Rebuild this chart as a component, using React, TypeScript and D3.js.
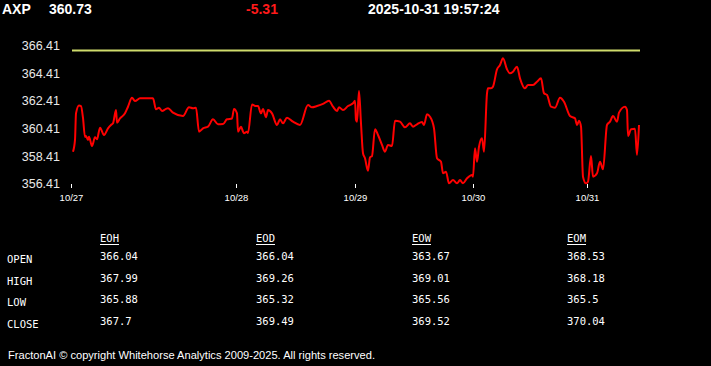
import React from "react";
import * as d3 from "d3";

const symbol = "AXP";
const lastPrice = "360.73";
const change = "-5.31";
const timestamp = "2025-10-31 19:57:24";
const prevClose = 366.04;

const yTicks = [356.41, 358.41, 360.41, 362.41, 364.41, 366.41];
const dayLabels = ["10/27", "10/28", "10/29", "10/30", "10/31"];
const dayTickBars = [0, 165, 284, 402, 516];
const totalBars = 568;

const bars = [
  1, 3, 4, 7, 9, 11, 13, 14, 16, 17, 20, 23, 25, 28, 32, 36, 39, 41, 44, 45, 48, 53, 56, 60, 63, 68,
  81, 84, 87, 90, 94, 96, 101, 111, 117, 121, 124, 127, 131, 136, 141, 146, 151, 155, 160, 162, 165,
  166, 169, 171, 172, 175, 176, 180, 184, 186, 189, 191, 194, 196, 200, 205, 208, 211, 215, 221, 228,
  236, 240, 245, 251, 257, 261, 265, 267, 271, 276, 281, 283, 284, 285, 287, 289, 291, 293, 296, 298,
  300, 303, 306, 310, 313, 316, 320, 323, 328, 333, 338, 341, 345, 350, 352, 355, 358, 362, 365, 369,
  371, 374, 377, 381, 385, 388, 391, 395, 400, 401, 403, 405, 407, 410, 412, 415, 416, 419, 421, 425,
  428, 431, 435, 438, 441, 445, 448, 453, 456, 461, 465, 469, 472, 475, 479, 483, 488, 492, 498, 503,
  505, 507, 509, 511, 514, 516, 519, 521, 525, 528, 531, 535, 538, 541, 545, 547, 553, 555, 556, 559,
  563, 565, 567,
];
const prices = [
  358.74, 359.59, 361.51, 362.08, 362.04, 361.18, 359.8, 359.88, 359.59, 359.83, 359.15, 359.78, 359.64,
  360.47, 359.95, 360.43, 360.67, 360.79, 361.75, 360.84, 361.15, 361.51, 361.99, 362.64, 362.4, 362.6,
  362.6, 361.8, 361.92, 361.68, 361.83, 361.88, 361.56, 361.32, 361.95, 361.88, 361.92, 360.19, 360.43,
  360.55, 361.08, 360.72, 360.74, 361.08, 361.14, 361.83, 361.51,
  360.19, 360.55, 360.19, 360.07, 360.19, 360.09, 362.15, 362.04, 362.04, 361.51, 361.83, 361.23, 361.75,
  361.51, 360.67, 361.08, 360.79, 361.2, 360.91, 360.67,
  362.11, 361.95, 362.04, 362.19, 362.42, 361.99, 361.68, 361.95, 361.75, 362.04, 362.24, 362.42, 361.03,
  360.91, 363.12, 360.79, 358.63, 358.27, 357.37, 358.34,
  358.43, 360.36, 359.95, 359.23, 358.74, 359.23, 359.15, 360.98, 360.91, 360.5, 360.79, 360.55, 360.72,
  360.89, 360.67, 361.44, 361.27, 360.43, 358.27, 358.02,
  357.18, 357.3, 356.46, 356.7, 356.46, 356.7, 356.46, 356.82, 357.06, 356.94, 358.99, 358.02, 359.1,
  359.71, 358.74, 362.96, 363.32, 363.32, 363.44, 364.69,
  365.0, 365.49, 364.69, 364.4, 364.52, 364.88, 364.04, 363.32, 363.56, 363.56, 363.8, 364.04, 362.96,
  362.84, 361.99, 361.92, 362.64, 362.35, 361.32, 361.15,
  360.67, 360.98, 360.55, 356.94, 356.46, 356.58, 358.43, 356.94, 357.18, 358.02, 357.47, 360.67, 360.91,
  361.32, 360.91, 361.56, 361.99, 361.75, 359.88, 360.36,
  360.4, 358.51, 360.67,
];

const tableColumns = ["EOH", "EOD", "EOW", "EOM"];
const tableRows = ["OPEN", "HIGH", "LOW", "CLOSE"];
const eohValues = ["366.04", "367.99", "365.88", "367.7"];
const eodValues = ["366.04", "369.26", "365.32", "369.49"];
const eowValues = ["363.67", "369.01", "365.56", "369.52"];
const eomValues = ["368.53", "368.18", "365.5", "370.04"];
const tableValues = [eohValues, eodValues, eowValues, eomValues];

const footer = "FractonAI \u00A9 copyright Whitehorse Analytics 2009-2025. All rights reserved.";

const W = 711;
const H = 366;

export default function App() {
  const x = d3.scaleLinear().domain([0, totalBars]).range([72, 640]);
  const y = d3.scaleLinear().domain([356.41, 366.41]).range([184, 45.5]);
  const line = d3
    .line<number>()
    .x((_, i) => x(bars[i]))
    .y((d) => y(d))
    .curve(d3.curveMonotoneX);
  const path = line(prices) || "";

  const colX = [100, 256, 412, 567];
  const rowY = [263, 285, 306, 328];
  const sans = "'Liberation Sans', Arial, sans-serif";
  const mono = "'DejaVu Sans Mono', 'Liberation Mono', monospace";

  return (
    <svg
      width={W}
      height={H}
      style={{ position: "fixed", left: 0, top: 0, background: "#000", display: "block" }}
    >
      <rect x={0} y={0} width={W} height={H} fill="#000" />
      {/* header */}
      <g fontFamily={sans} fontWeight="bold" fontSize={14}>
        <text x={2} y={14} fill="#fff">{symbol}</text>
        <text x={49} y={14} fill="#fff">{lastPrice}</text>
        <text x={262} y={14} fill="#ff1a1a" textAnchor="middle">{change}</text>
        <text x={368} y={14} fill="#fff">{timestamp}</text>
      </g>

      {/* y axis labels */}
      <g fontFamily={sans} fontSize={12.5} fill="#e8e8e8">
        {yTicks.map((t) => (
          <text key={t} x={60} y={y(t)} dy="0.35em" textAnchor="end">
            {t.toFixed(2)}
          </text>
        ))}
      </g>

      {/* x axis ticks */}
      <g fontFamily={sans} fontSize={9.5} fill="#fff">
        {dayTickBars.map((b, i) => (
          <g key={dayLabels[i]}>
            <line x1={x(b) - 0.5} x2={x(b) - 0.5} y1={184} y2={188} stroke="#fff" strokeWidth={1} />
            <text x={x(b) - 0.5} y={201} textAnchor="middle">{dayLabels[i]}</text>
          </g>
        ))}
      </g>

      {/* previous close */}
      <line
        x1={x(0)}
        x2={x(totalBars)}
        y1={y(prevClose)}
        y2={y(prevClose)}
        stroke="#cfdc6c"
        strokeWidth={2}
      />

      {/* price line */}
      <path d={path} fill="none" stroke="#ff0000" strokeWidth={2} strokeLinejoin="round" />

      {/* table */}
      <g fontFamily={mono} fontSize={10.5} fill="#fff">
        {tableColumns.map((c, j) => (
          <g key={c}>
            <text x={colX[j]} y={242}>{c}</text>
            <line x1={colX[j]} x2={colX[j] + 19} y1={244.5} y2={244.5} stroke="#fff" strokeWidth={1} />
          </g>
        ))}
        {tableRows.map((r, i) => (
          <g key={r}>
            <text x={7} y={rowY[i]}>{r}</text>
            {tableValues.map((vals, j) => (
              <text key={j} x={colX[j]} y={rowY[i] - 3}>{vals[i]}</text>
            ))}
          </g>
        ))}
      </g>

      {/* footer */}
      <text
        x={8}
        y={359}
        fontFamily={sans}
        fontSize={11}
        fill="#fff"
        textLength={367}
        lengthAdjust="spacingAndGlyphs"
      >
        {footer}
      </text>
    </svg>
  );
}
